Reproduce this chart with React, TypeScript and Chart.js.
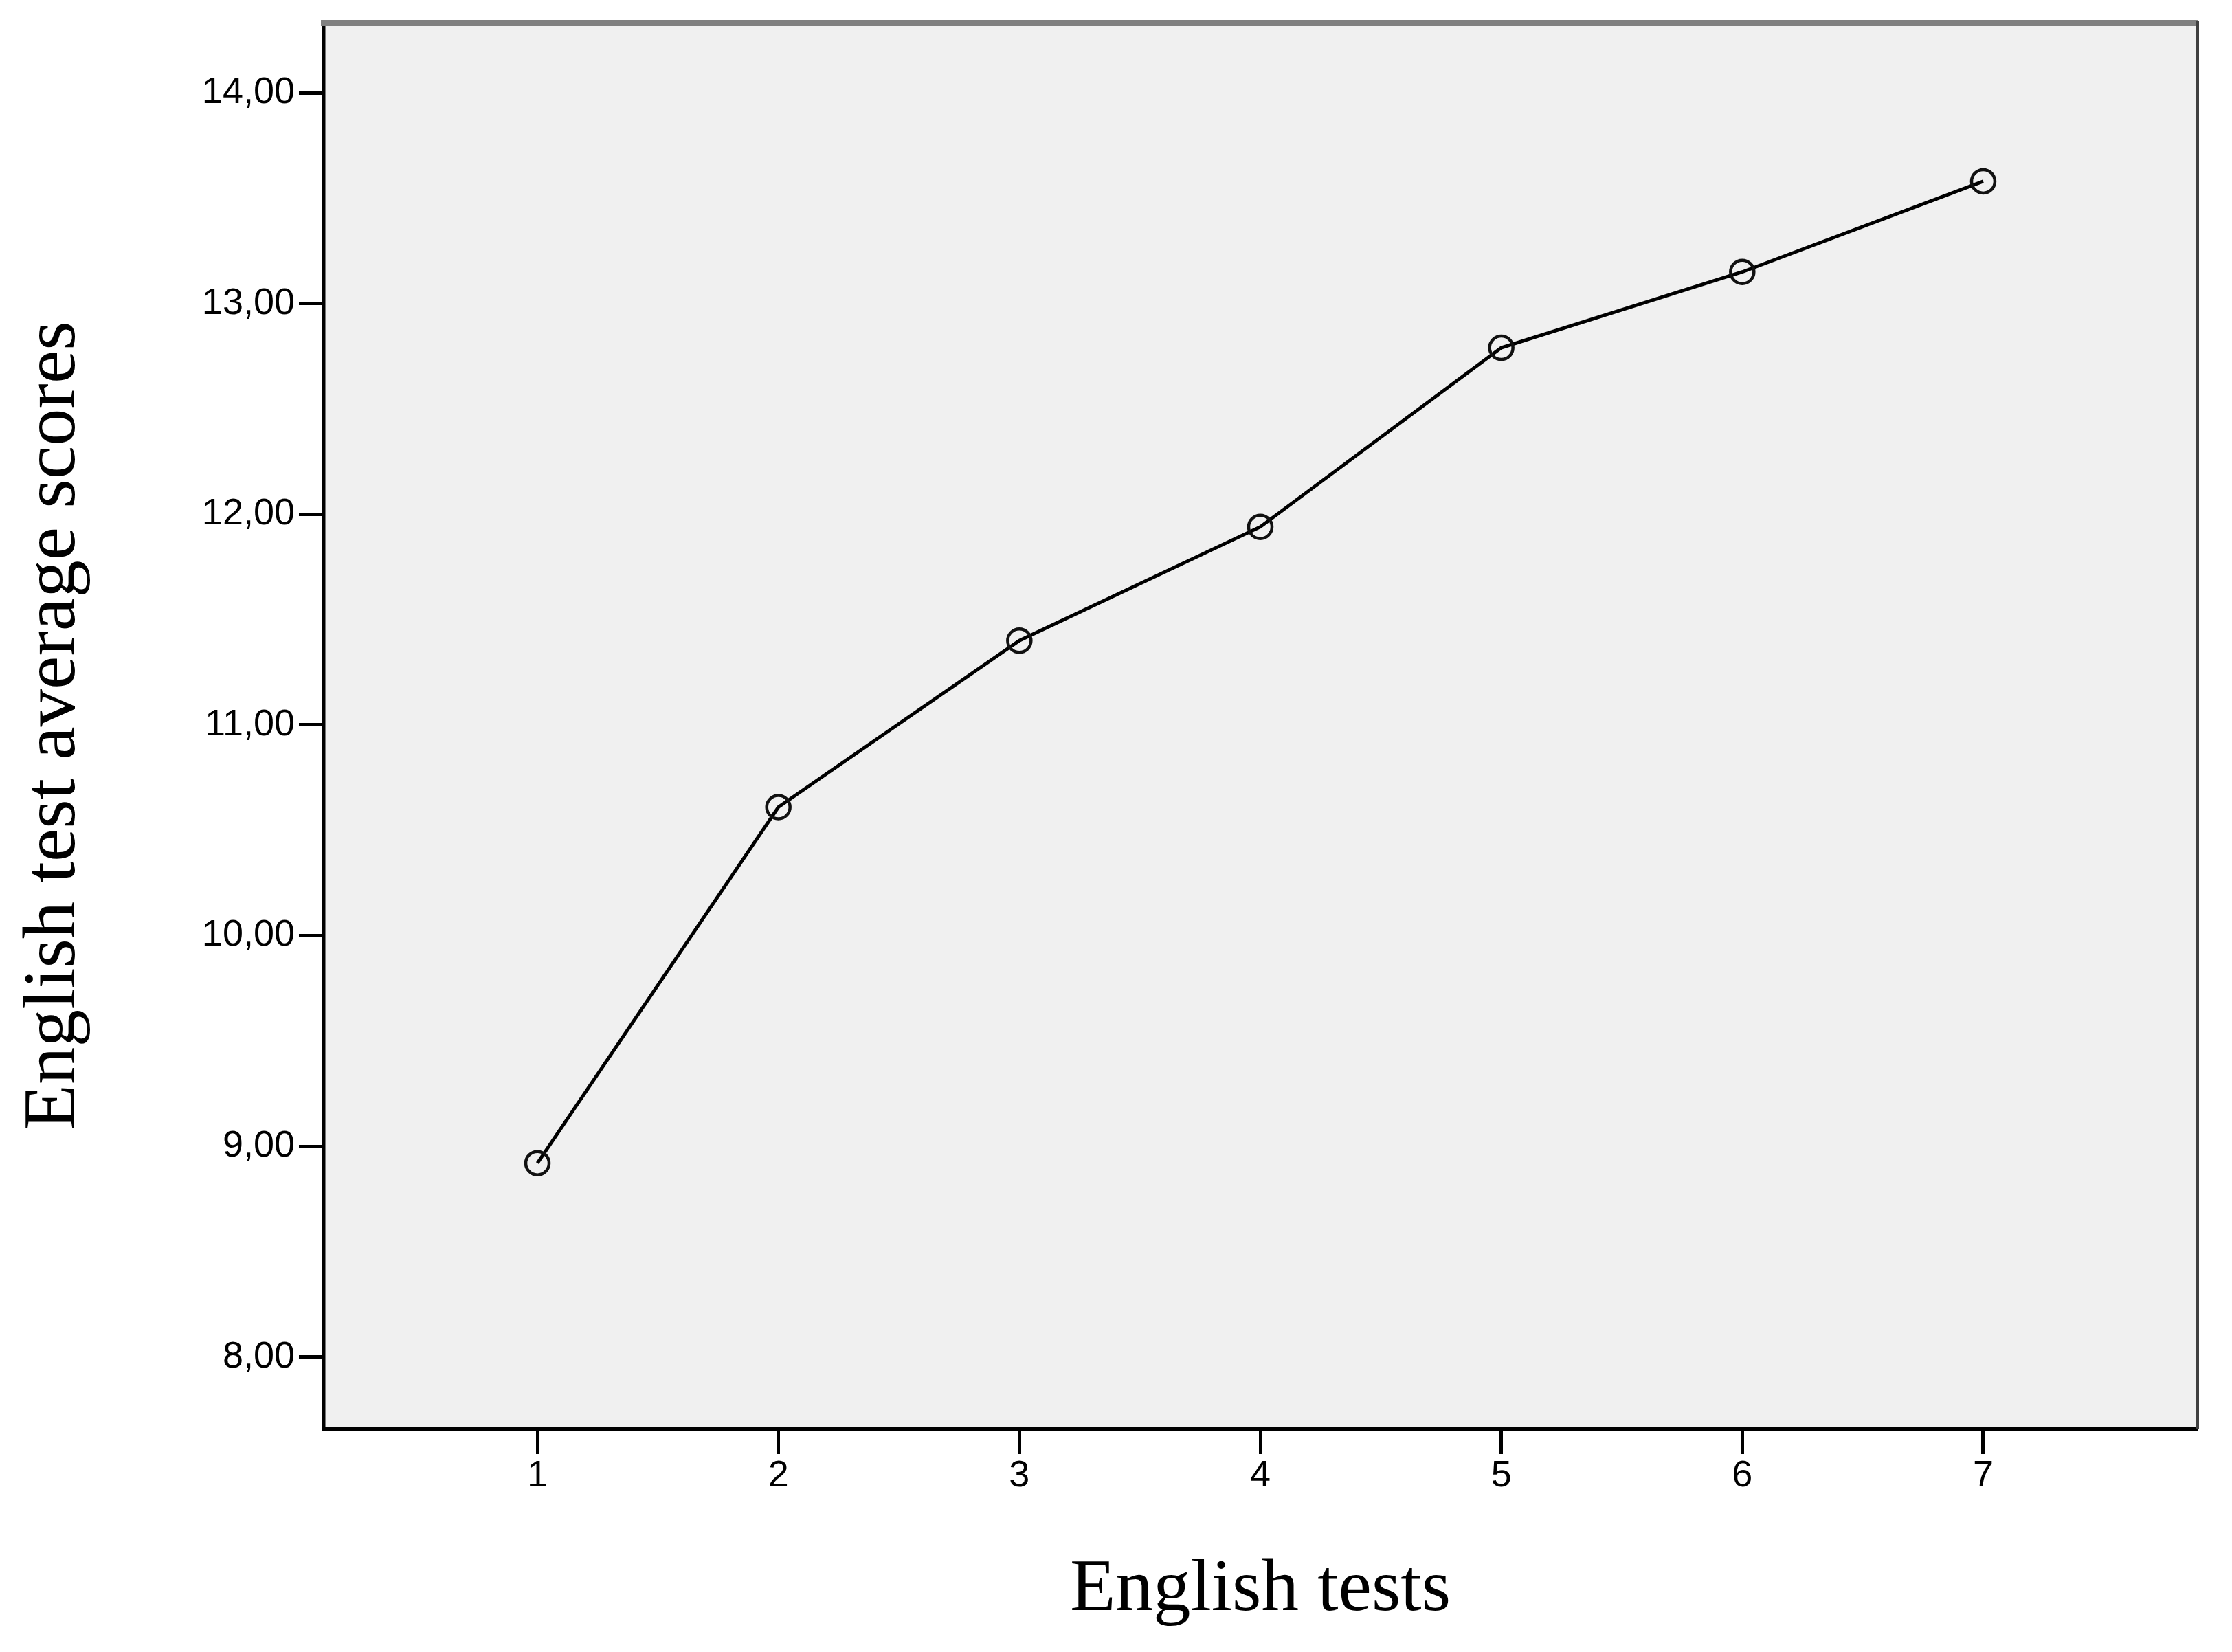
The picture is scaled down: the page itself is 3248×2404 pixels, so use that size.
import React, { useEffect, useRef } from "react";
import { Chart, registerables } from "chart.js";

Chart.register(...registerables);

// ---- data ----
const testNumbers: number[] = [1, 2, 3, 4, 5, 6, 7];
const averageScores: number[] = [8.92, 10.61, 11.4, 11.94, 12.79, 13.15, 13.58];
const xTickValues: number[] = [1, 2, 3, 4, 5, 6, 7];
const xTickLabels: string[] = ["1", "2", "3", "4", "5", "6", "7"];
const yTickValues: number[] = [8, 9, 10, 11, 12, 13, 14];
const yTickLabels: string[] = ["8,00", "9,00", "10,00", "11,00", "12,00", "13,00", "14,00"];
const xAxisTitle = "English tests";
const yAxisTitle = "English test average scores";

const W = 3248;
const H = 2404;

const plotBackground = {
  id: "plotBackground",
  beforeDraw(chart: any) {
    const { ctx, chartArea } = chart;
    if (!chartArea) return;
    ctx.save();
    ctx.fillStyle = "#F0F0F0";
    ctx.fillRect(chartArea.left, chartArea.top, chartArea.right - chartArea.left, chartArea.bottom - chartArea.top);
    ctx.restore();
  },
};

export default function App() {
  const ref = useRef<HTMLCanvasElement | null>(null);

  useEffect(() => {
    if (!ref.current) return;
    const tickFont = { family: "'Liberation Sans', Arial, sans-serif", size: 54, lineHeight: 1 };
    const titleFont = { family: "'Liberation Serif', 'Times New Roman', serif", size: 109, lineHeight: 1.2 };
    const chart = new Chart(ref.current, {
      type: "line",
      data: {
        datasets: [
          {
            data: testNumbers.map((x, i) => ({ x, y: averageScores[i] })),
            borderColor: "#000000",
            borderWidth: 5,
            backgroundColor: "rgba(0,0,0,0)",
            pointStyle: "circle",
            pointRadius: 17,
            pointBorderWidth: 4.5,
            pointBorderColor: "#111111",
            pointBackgroundColor: "rgba(0,0,0,0)",
            tension: 0,
            fill: false,
          },
        ],
      },
      options: {
        animation: false,
        responsive: false,
        devicePixelRatio: 1,
        layout: { padding: { left: 0, right: 51, top: 31, bottom: 0 } },
        plugins: {
          legend: { display: false },
          tooltip: { enabled: false },
        },
        scales: {
          x: {
            type: "linear",
            position: "bottom",
            min: 0.113,
            max: 7.887,
            afterBuildTicks: (scale: any) => {
              scale.ticks = xTickValues.map((v) => ({ value: v }));
            },
            afterFit: (scale: any) => {
              scale.height = 325;
            },
            ticks: {
              color: "#000000",
              font: tickFont,
              padding: 5,
              maxRotation: 0,
              autoSkip: false,
              callback: (v: any) => {
                const i = xTickValues.indexOf(Number(v));
                return i >= 0 ? xTickLabels[i] : "";
              },
            },
            grid: {
              display: true,
              drawOnChartArea: false,
              drawTicks: true,
              tickLength: 37,
              tickWidth: 5,
              tickColor: "#000000",
            },
            border: { display: true, color: "#000000", width: 5 },
            title: {
              display: true,
              text: xAxisTitle,
              color: "#000000",
              font: titleFont,
              padding: { top: 0, bottom: 24 },
            },
          },
          y: {
            type: "linear",
            position: "left",
            min: 7.66,
            max: 14.333,
            afterBuildTicks: (scale: any) => {
              scale.ticks = yTickValues.map((v) => ({ value: v }));
            },
            afterFit: (scale: any) => {
              scale.width = 471;
            },
            ticks: {
              color: "#000000",
              font: tickFont,
              padding: 6,
              autoSkip: false,
              callback: (v: any) => {
                const i = yTickValues.indexOf(Number(v));
                return i >= 0 ? yTickLabels[i] : "";
              },
            },
            grid: {
              display: true,
              drawOnChartArea: false,
              drawTicks: true,
              tickLength: 36,
              tickWidth: 5,
              tickColor: "#000000",
            },
            border: { display: true, color: "#000000", width: 4.5 },
            title: {
              display: true,
              text: yAxisTitle,
              color: "#000000",
              font: titleFont,
              padding: { top: 14, bottom: 0 },
            },
          },
          xTop: {
            type: "linear",
            position: "top",
            display: true,
            afterFit: (scale: any) => {
              scale.height = 0;
            },
            ticks: { display: false },
            grid: { display: false, drawTicks: false },
            border: { display: true, color: "#808080", width: 9 },
          },
          yRight: {
            type: "linear",
            position: "right",
            display: true,
            afterFit: (scale: any) => {
              scale.width = 0;
            },
            ticks: { display: false },
            grid: { display: false, drawTicks: false },
            border: { display: true, color: "#404040", width: 5 },
          },
        },
      },
      plugins: [plotBackground],
    } as any);
    return () => chart.destroy();
  }, []);

  return (
    <div style={{ position: "absolute", left: 0, top: 0, width: W, height: H, background: "#ffffff" }}>
      <canvas ref={ref} width={W} height={H} style={{ width: W, height: H, display: "block" }} />
    </div>
  );
}
